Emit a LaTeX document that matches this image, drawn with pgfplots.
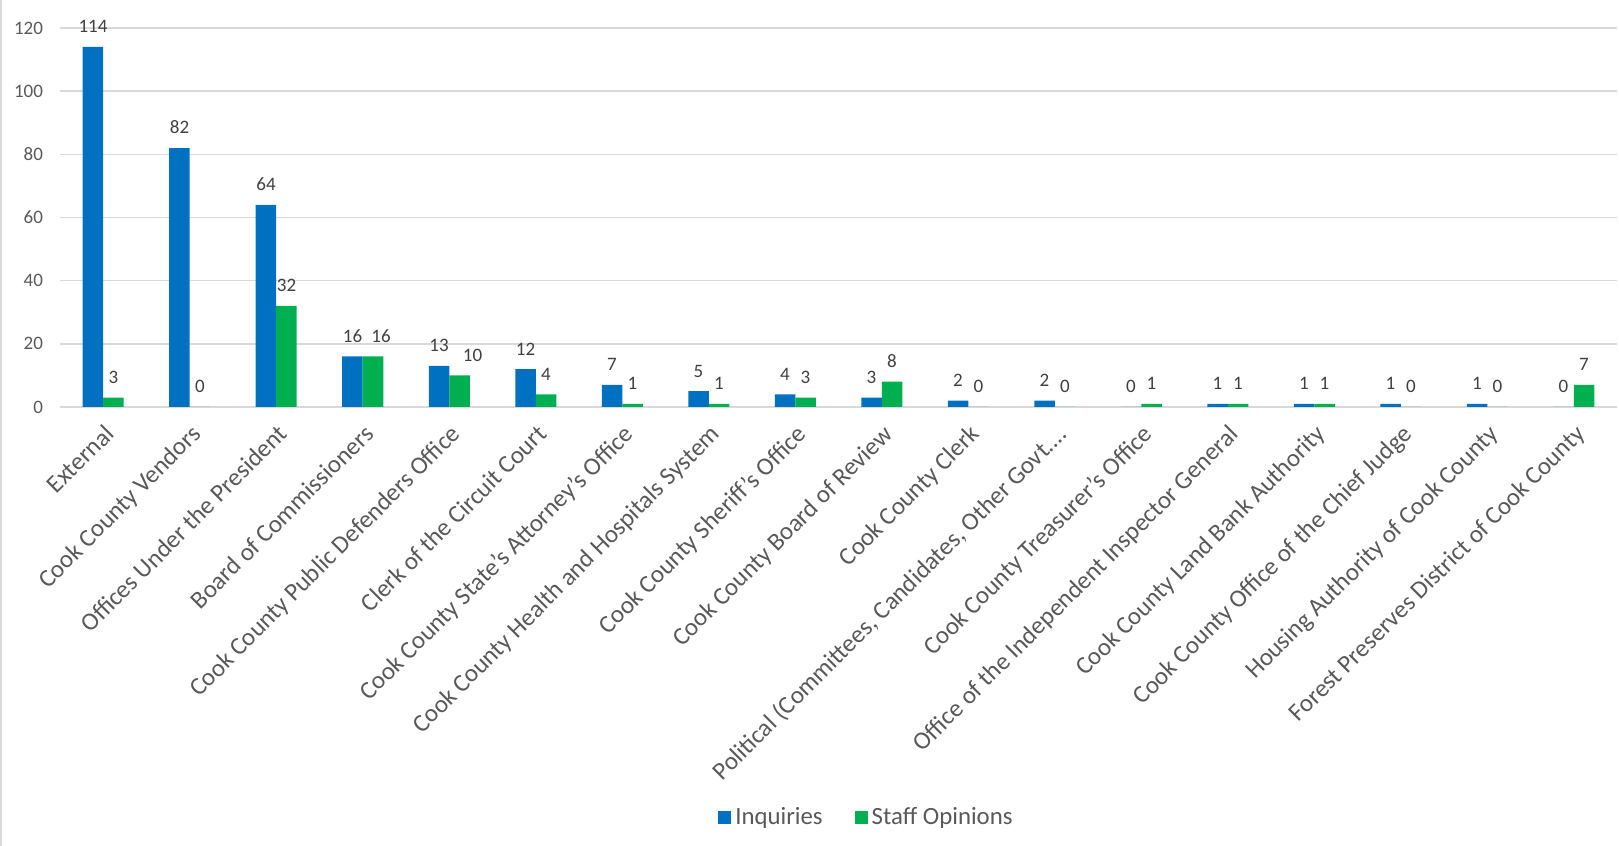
\documentclass[border=0pt]{standalone}
\usepackage{pgfplots}
\usepackage{pgfplotstable}
\pgfplotsset{compat=1.18}
\usepackage{fontspec}
\setmainfont{Carlito}
\definecolor{cblue}{HTML}{0070C0}
\definecolor{cgreen}{HTML}{00B050}
\definecolor{tgray}{HTML}{595959}
\definecolor{ggray}{HTML}{D9D9D9}
\pgfplotstableread{
x inq staff dx
0 114 3 0
1 82 0 0
2 64 32 0
3 16 16 4
4 13 10 6.5
5 12 4 0
6 7 1 0
7 5 1 0
8 4 3 0
9 3 8 0
10 2 0 0
11 2 0 0
12 0 1 0
13 1 1 0
14 1 1 0
15 1 0 0
16 1 0 0
17 0 7 0
}\datatable
\begin{document}
\begin{tikzpicture}
\useasboundingbox (0,0) rectangle (809.5pt,423pt);
\begin{axis}[
  at={(30pt,219.5pt)}, anchor=south west,
  scale only axis, width=778.5pt, height=189.5pt,
  ybar=0pt, bar width=10.25pt,
  xmin=-0.5, xmax=17.5, ymin=0, ymax=120,
  ytick={0,20,...,120},
  xtick={0,...,17},
  xticklabels={External,Cook County Vendors,Offices Under the President,Board of Commissioners,Cook County Public Defenders Office,Clerk of the Circuit Court,Cook County State’s Attorney’s Office,Cook County Health and Hospitals System,Cook County Sheriff’s Office,Cook County Board of Review,Cook County Clerk,{Political (Committees, Candidates, Other Govt.…},Cook County Treasurer’s Office,Office of the Independent Inspector General,Cook County Land Bank Authority,Cook County Office of the Chief Judge,Housing Authority of Cook County,Forest Preserves District of Cook County},
  x tick label style={yshift=-6.5pt, rotate=45, anchor=north east, font=\fontsize{12.5}{13}\selectfont, text=tgray, inner sep=1pt},
  y tick label style={font=\fontsize{9.5}{10}\selectfont, text=tgray},
  /pgf/number format/assume math mode=true,
  major tick length=0pt,
  ymajorgrids, grid style={ggray, line width=0.7pt},
  axis line style={draw=none},
  yticklabel style={xshift=-5pt},
  legend style={at={(0.5186,-1.082)}, anchor=center, draw=none, legend columns=2, font=\fontsize{12.4}{13}\selectfont, text=tgray, inner sep=0pt,
    /tikz/every even column/.append style={column sep=14pt}},
  legend image code/.code={\fill[#1] (0pt,-3.25pt) rectangle (6.5pt,3.25pt);},
]
\addplot[fill=cblue, draw=none, nodes near coords,
  every node near coord/.append style={font=\fontsize{9.5}{10}\selectfont, text=black!75, yshift=3.5pt}]
  table[x=x, y=inq] {\datatable};
\addplot[fill=cgreen, draw=none, nodes near coords,
  visualization depends on={\thisrow{dx} \as \dxval},
  every node near coord/.append style={font=\fontsize{9.5}{10}\selectfont, text=black!75, yshift=3.5pt, xshift=\dxval pt}]
  table[x=x, y=staff] {\datatable};
\legend{Inquiries, Staff Opinions}
\end{axis}
\draw[ggray, line width=0.8pt] (0.4pt,0) -- (0.4pt,423pt);
\end{tikzpicture}
\end{document}
